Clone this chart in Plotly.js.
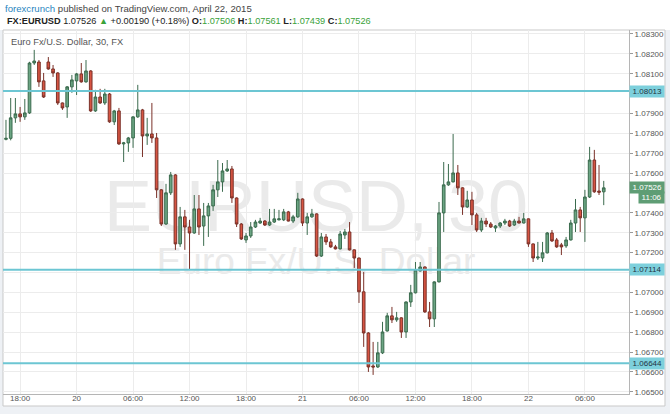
<!DOCTYPE html>
<html><head><meta charset="utf-8">
<script src="https://cdn.plot.ly/plotly-3.0.1.min.js"></script>
<style>html,body{margin:0;padding:0;background:#fff}#chart{width:670px;height:414px}</style>
</head><body><div id="chart"></div>
<script>
const startTime = '2015-04-19T16:30:00Z';
const intervalMinutes = 30;

const openPrices = [
1.07770,1.07775,1.07878,1.07898,1.07883,1.07903,1.08154,1.08159,1.08064,1.08159,
1.08124,1.08104,1.07953,1.07933,1.08034,1.08064,1.08099,1.08059,1.08114,1.07913,
1.07983,1.07953,1.07998,1.07858,1.07913,1.07747,1.07752,1.07777,1.07883,1.07918,
1.07787,1.07797,1.07777,1.07516,1.07344,1.07501,1.07591,1.07244,1.07380,1.07329,
1.07299,1.07420,1.07334,1.07385,1.07435,1.07516,1.07556,1.07611,1.07621,1.07475,
1.07344,1.07264,1.07284,1.07329,1.07349,1.07359,1.07339,1.07354,1.07365,1.07365,
1.07405,1.07359,1.07380,1.07470,1.07349,1.07380,1.07395,1.07183,1.07279,1.07254,
1.07229,1.07219,1.07289,1.07304,1.07214,1.07173,1.07003,1.06796,1.06630,1.06625,
1.06696,1.06806,1.06882,1.06862,1.06872,1.06801,1.06952,1.06998,1.07108,1.07128,
1.06902,1.06867,1.07053,1.07400,1.07541,1.07556,1.07601,1.07526,1.07430,1.07465,
1.07390,1.07314,1.07359,1.07344,1.07324,1.07334,1.07349,1.07359,1.07339,1.07359,
1.07349,1.07370,1.07244,1.07173,1.07173,1.07199,1.07299,1.07264,1.07239,1.07234,
1.07264,1.07349,1.07415,1.07375,1.07480,1.07666,1.07510,1.07506];
const highPrices = [
1.07868,1.07978,1.07978,1.07933,1.07973,1.08160,1.08220,1.08169,1.08104,1.08184,
1.08144,1.08108,1.07955,1.08038,1.08094,1.08104,1.08154,1.08169,1.08118,1.08019,
1.08024,1.08024,1.08003,1.07918,1.07928,1.07757,1.07782,1.07886,1.08044,1.07923,
1.07878,1.07953,1.07802,1.07520,1.07546,1.07606,1.07595,1.07430,1.07415,1.07365,
1.07490,1.07490,1.07450,1.07450,1.07541,1.07666,1.07651,1.07666,1.07636,1.07478,
1.07349,1.07299,1.07354,1.07365,1.07375,1.07364,1.07420,1.07420,1.07415,1.07420,
1.07410,1.07390,1.07501,1.07473,1.07400,1.07420,1.07398,1.07299,1.07294,1.07269,
1.07239,1.07309,1.07319,1.07354,1.07216,1.07175,1.07103,1.06800,1.06751,1.06751,
1.06852,1.06897,1.06927,1.06902,1.06875,1.06955,1.07038,1.07153,1.07153,1.07131,
1.06952,1.07056,1.07455,1.07656,1.07646,1.07797,1.07641,1.07529,1.07511,1.07506,
1.07400,1.07375,1.07375,1.07354,1.07339,1.07354,1.07370,1.07365,1.07370,1.07380,
1.07400,1.07372,1.07246,1.07254,1.07254,1.07304,1.07314,1.07274,1.07249,1.07279,
1.07365,1.07470,1.07430,1.07516,1.07732,1.07717,1.07641,1.07561];
const lowPrices = [
1.07765,1.07765,1.07853,1.07858,1.07868,1.07898,1.08144,1.08034,1.07978,1.08120,
1.08084,1.07943,1.07918,1.07878,1.08004,1.07993,1.08055,1.08055,1.07908,1.07908,
1.07948,1.07943,1.07853,1.07842,1.07742,1.07656,1.07707,1.07727,1.07878,1.07681,
1.07742,1.07752,1.07475,1.07334,1.07339,1.07490,1.07214,1.07229,1.07214,1.07113,
1.07295,1.07289,1.07234,1.07279,1.07410,1.07480,1.07506,1.07606,1.07450,1.07329,
1.07264,1.07249,1.07274,1.07324,1.07345,1.07334,1.07334,1.07349,1.07362,1.07359,
1.07357,1.07349,1.07375,1.07334,1.07289,1.07375,1.07178,1.07178,1.07239,1.07224,
1.07216,1.07216,1.07269,1.07211,1.07123,1.06947,1.06726,1.06600,1.06585,1.06620,
1.06690,1.06803,1.06846,1.06852,1.06771,1.06771,1.06927,1.06995,1.07105,1.06897,
1.06826,1.06826,1.07050,1.07304,1.07536,1.07553,1.07490,1.07390,1.07425,1.07339,
1.07304,1.07304,1.07329,1.07324,1.07304,1.07324,1.07339,1.07329,1.07334,1.07347,
1.07347,1.07229,1.07153,1.07163,1.07153,1.07196,1.07254,1.07224,1.07188,1.07224,
1.07261,1.07304,1.07304,1.07254,1.07475,1.07501,1.07490,1.07439];
const closePrices = [
1.07775,1.07878,1.07898,1.07883,1.07903,1.08154,1.08164,1.08059,1.07983,1.08124,
1.08104,1.07953,1.07928,1.08034,1.08069,1.08099,1.08059,1.08114,1.07913,1.07983,
1.07953,1.07998,1.07858,1.07913,1.07747,1.07752,1.07777,1.07883,1.07918,1.07787,
1.07797,1.07777,1.07516,1.07344,1.07501,1.07591,1.07244,1.07380,1.07329,1.07299,
1.07420,1.07329,1.07385,1.07435,1.07516,1.07556,1.07611,1.07621,1.07475,1.07344,
1.07269,1.07284,1.07329,1.07354,1.07359,1.07339,1.07354,1.07370,1.07370,1.07405,
1.07359,1.07380,1.07470,1.07349,1.07380,1.07395,1.07183,1.07279,1.07254,1.07229,
1.07219,1.07294,1.07304,1.07214,1.07173,1.07003,1.06796,1.06625,1.06625,1.06696,
1.06801,1.06882,1.06862,1.06872,1.06801,1.06952,1.06998,1.07113,1.07128,1.06902,
1.06867,1.07053,1.07400,1.07541,1.07556,1.07601,1.07526,1.07430,1.07465,1.07390,
1.07314,1.07359,1.07344,1.07329,1.07334,1.07349,1.07359,1.07334,1.07359,1.07349,
1.07370,1.07244,1.07173,1.07178,1.07199,1.07299,1.07259,1.07229,1.07229,1.07264,
1.07349,1.07415,1.07375,1.07480,1.07666,1.07506,1.07504,1.07526];

const levelLines = [1.08013, 1.07114, 1.06644];
const lastPrice = 1.07526;
const lastBarTimer = '11:06';
const yTickValues = [1.065,1.066,1.067,1.068,1.069,1.070,1.071,1.072,1.073,1.074,1.076,1.077,1.078,1.079,1.081,1.082,1.083];
const xTickValues = ['2015-04-19 18:00','2015-04-20 00:00','2015-04-20 06:00','2015-04-20 12:00','2015-04-20 18:00',
  '2015-04-21 00:00','2015-04-21 06:00','2015-04-21 12:00','2015-04-21 18:00','2015-04-22 00:00','2015-04-22 06:00'];
const xTickLabels = ['18:00','20','06:00','12:00','18:00','21','06:00','12:00','18:00','22','06:00'];
const headerLine1 = '<span style="color:#2a86c0">forexcrunch</span> published on TradingView.com, April 22, 2015';
const headerLine2 = '<b>FX:EURUSD</b> 1.07526 <span style="color:#3aa23a">▲</span> +0.00190 (+0.18%) <b>O:</b><span style="color:#3aa23a">1.07506</span> <b>H:</b><span style="color:#3aa23a">1.07561</span> <b>L:</b><span style="color:#3aa23a">1.07439</span> <b>C:</b><span style="color:#3aa23a">1.07526</span>';
const chartTitle = 'Euro Fx/U.S. Dollar, 30, FX';
const watermarkMain = 'EURUSD, 30';
const watermarkSub = 'Euro Fx/U.S. Dollar';

const times = openPrices.map((_, i) =>
  new Date(Date.parse(startTime) + i * intervalMinutes * 60000).toISOString().slice(0, 16).replace('T', ' '));

const trace = {
  type: 'candlestick', x: times, open: openPrices, high: highPrices, low: lowPrices, close: closePrices,
  increasing: {fillcolor: '#6ba583', line: {color: '#3b6b4e', width: 1}},
  decreasing: {fillcolor: '#d75442', line: {color: '#7a3128', width: 1}},
  whiskerwidth: 0, hoverinfo: 'skip', showlegend: false
};

const fontFam = 'Liberation Sans, Arial, sans-serif';
const shapes = [];
shapes.push({type:'rect', xref:'paper', yref:'paper', x0:-0.006, x1:0, y0:-0.06, y1:1.0, fillcolor:'#eef1f5', line:{width:0}, layer:'below'});
shapes.push({type:'rect', xref:'paper', yref:'paper', x0:1.0575, x1:1.07, y0:-0.06, y1:1.0, fillcolor:'#eef1f5', line:{width:0}, layer:'below'});
shapes.push({type:'rect', xref:'paper', yref:'paper', x0:-0.006, x1:1.07, y0:-0.06, y1:-0.033, fillcolor:'#eef1f5', line:{width:0}, layer:'below'});
shapes.push({type:'rect', xref:'paper', yref:'paper', x0:0, x1:1.0575, y0:-0.033, y1:1.0, line:{color:'#c9c9c9', width:1}, fillcolor:'rgba(0,0,0,0)', layer:'below'});
shapes.push({type:'rect', xref:'paper', yref:'paper', x0:0.1, x1:0.9, y0:0.47, y1:0.6, line:{width:0}, fillcolor:'rgba(0,0,0,0)', layer:'between',
  label:{text: watermarkMain, textposition:'middle center', font:{family:fontFam, size:72, color:'#eaeaea'}}});
shapes.push({type:'rect', xref:'paper', yref:'paper', x0:0.1, x1:0.9, y0:0.33, y1:0.42, line:{width:0}, fillcolor:'rgba(0,0,0,0)', layer:'between',
  label:{text: watermarkSub, textposition:'middle center', font:{family:fontFam, size:37, color:'#eaeaea'}}});
levelLines.forEach(v => shapes.push({type:'line', xref:'paper', yref:'y', x0:0, x1:1, y0:v, y1:v, line:{color:'#6cc6d3', width:2}, layer:'above'}));

const axisFont = {family:fontFam, size:8, color:'#555'};
const annotations = [
  {xref:'paper', yref:'paper', x:0.0, y:1.0604, xanchor:'left', yanchor:'middle', showarrow:false, text: headerLine1,
   font:{family:fontFam, size:9.6, color:'#444'}},
  {xref:'paper', yref:'paper', x:0.003, y:1.0247, xanchor:'left', yanchor:'middle', showarrow:false, text: headerLine2,
   font:{family:fontFam, size:9.2, color:'#222'}},
  {xref:'paper', yref:'paper', x:0.01, y:0.967, xanchor:'left', yanchor:'middle', showarrow:false, text: chartTitle,
   font:{family:fontFam, size:9.3, color:'#555'}}
];
levelLines.forEach(v => annotations.push({xref:'paper', yref:'y', x:1, y:v, xanchor:'left', yanchor:'middle', showarrow:false,
  text: '\u2009' + v.toFixed(5) + '\u2009', bgcolor:'#7dd0dc', borderpad:1, font:{family:fontFam, size:8, color:'#234'}}));
annotations.push({xref:'paper', yref:'y', x:1, y:lastPrice, xanchor:'left', yanchor:'middle', showarrow:false,
  text: '\u2009' + lastPrice.toFixed(5) + '\u2009', bgcolor:'#5f9d75', borderpad:1, font:{family:fontFam, size:8, color:'#fff'}});
annotations.push({xref:'paper', yref:'y', x:1.0575, y:lastPrice, yshift:-10, xanchor:'right', yanchor:'middle', showarrow:false,
  text: '\u2009' + lastBarTimer + '\u2009', bgcolor:'#5f9d75', borderpad:1, font:{family:fontFam, size:8, color:'#fff'}});

const layout = {
  width: 670, height: 414,
  margin: {l:3, r:41, t:30, b:20, pad:0},
  paper_bgcolor: '#ffffff', plot_bgcolor: '#ffffff',
  showlegend: false, hovermode: false, dragmode: false, boxgap: 0.2,
  xaxis: {
    type:'date', range:['2015-04-19 16:11','2015-04-22 10:41'], rangeslider:{visible:false},
    tickmode:'array', tickvals: xTickValues, ticktext: xTickLabels, ticklabelstandoff: -4,
    showgrid:true, gridcolor:'#ececec', gridwidth:1, zeroline:false,
    showline:true, linecolor:'#b5b5b5', linewidth:1, ticks:'', tickfont: axisFont, fixedrange:true
  },
  yaxis: {
    side:'right', range:[1.06489, 1.08320], tickmode:'array', tickvals: yTickValues, tickformat:'.5f',
    showgrid:true, gridcolor:'#ececec', gridwidth:1, zeroline:false,
    showline:true, linecolor:'#b5b5b5', linewidth:1, ticks:'outside', ticklen:3, tickcolor:'#999',
    tickfont: axisFont, fixedrange:true
  },
  shapes: shapes,
  annotations: annotations
};

Plotly.newPlot('chart', [trace], layout, {displayModeBar:false, staticPlot:true});
</script></body></html>
